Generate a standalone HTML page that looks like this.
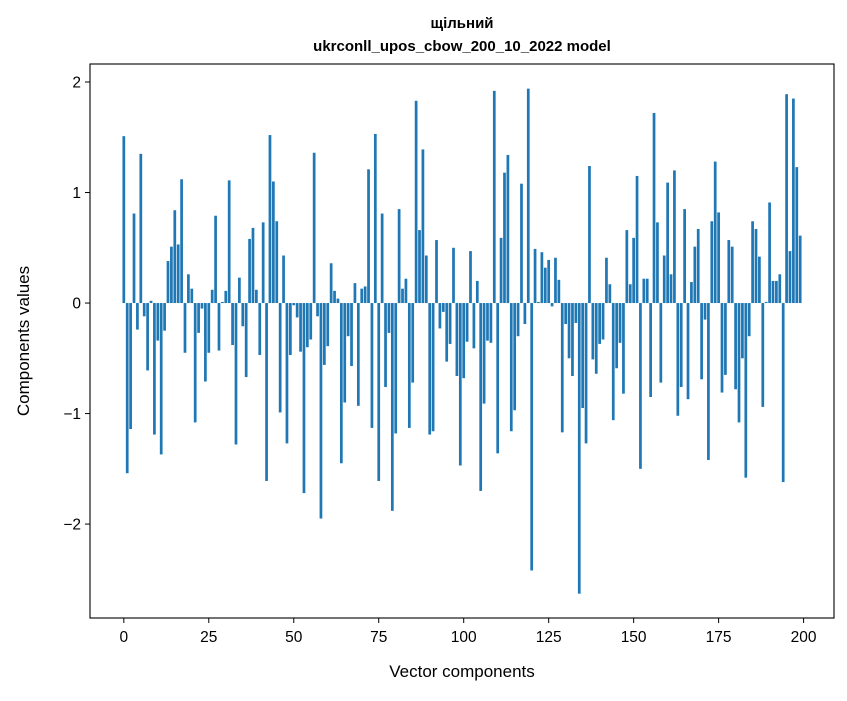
<!DOCTYPE html>
<html><head><meta charset="utf-8"><style>
html,body{margin:0;padding:0;background:#fff;}
svg text{font-family:"Liberation Sans","DejaVu Sans",sans-serif;fill:#000;}
</style></head><body>
<svg width="847" height="696" viewBox="0 0 847 696" xmlns="http://www.w3.org/2000/svg">
<rect x="0" y="0" width="847" height="696" fill="#fff"/>
<g id="bars"></g>
<g id="xticks"></g>
<g id="yticks"></g>
<rect x="90" y="64" width="744" height="554" fill="none" stroke="#000" stroke-width="1.1"/>
<text x="462" y="28" text-anchor="middle" font-size="15" font-weight="bold">щільний</text>
<text x="462" y="51" text-anchor="middle" font-size="15" font-weight="bold">ukrconll_upos_cbow_200_10_2022 model</text>
<text x="462" y="677" text-anchor="middle" font-size="17">Vector components</text>
<text x="0" y="0" transform="translate(29,341) rotate(-90)" text-anchor="middle" font-size="17">Components values</text>
</svg>
<script>
const values = [1.51,-1.54,-1.14,0.81,-0.24,1.35,-0.12,-0.61,0.02,-1.19,
-0.34,-1.37,-0.25,0.38,0.51,0.84,0.53,1.12,-0.45,0.26,
0.13,-1.08,-0.27,-0.05,-0.71,-0.45,0.12,0.79,-0.43,0.01,
0.11,1.11,-0.38,-1.28,0.23,-0.21,-0.67,0.58,0.68,0.12,
-0.47,0.73,-1.61,1.52,1.10,0.74,-0.99,0.43,-1.27,-0.47,
-0.02,-0.13,-0.44,-1.72,-0.40,-0.33,1.36,-0.12,-1.95,-0.56,
-0.39,0.36,0.11,0.04,-1.45,-0.90,-0.30,-0.57,0.18,-0.93,
0.13,0.15,1.21,-1.13,1.53,-1.61,0.81,-0.76,-0.27,-1.88,
-1.18,0.85,0.13,0.22,-1.13,-0.72,1.83,0.66,1.39,0.43,
-1.19,-1.16,0.57,-0.23,-0.08,-0.53,-0.37,0.50,-0.66,-1.47,
-0.68,-0.35,0.47,-0.41,0.20,-1.70,-0.91,-0.34,-0.36,1.92,
-1.36,0.59,1.18,1.34,-1.16,-0.97,-0.30,1.08,-0.19,1.94,
-2.42,0.49,0.01,0.46,0.32,0.39,-0.03,0.41,0.21,-1.17,
-0.19,-0.50,-0.66,-0.18,-2.63,-0.95,-1.27,1.24,-0.51,-0.64,
-0.37,-0.33,0.41,0.17,-1.06,-0.59,-0.36,-0.82,0.66,0.17,
0.59,1.15,-1.50,0.22,0.22,-0.85,1.72,0.73,-0.72,0.43,
1.09,0.26,1.20,-1.02,-0.76,0.85,-0.87,0.19,0.51,0.67,
-0.69,-0.15,-1.42,0.74,1.28,0.82,-0.81,-0.65,0.57,0.51,
-0.78,-1.08,-0.50,-1.58,-0.30,0.74,0.67,0.42,-0.94,0.01,
0.91,0.20,0.20,0.26,-1.62,1.89,0.47,1.85,1.23,0.61];
const xTickValues = [0,25,50,75,100,125,150,175,200];
const yTickValues = [-2,-1,0,1,2];
const NS = "http://www.w3.org/2000/svg";
const X0 = 90, X1 = 834, Y0 = 64, Y1 = 618;
const xMin = -9.95, xMax = 208.95, yMin = -2.85, yMax = 2.163;
function xs(v){ return X0 + (v - xMin) / (xMax - xMin) * (X1 - X0); }
function ys(v){ return Y1 - (v - yMin) / (yMax - yMin) * (Y1 - Y0); }
const bars = document.getElementById('bars');
values.forEach((v, i) => {
  const r = document.createElementNS(NS, 'rect');
  const xa = xs(i - 0.4), xb = xs(i + 0.4);
  const ya = ys(Math.max(v, 0)), yb = ys(Math.min(v, 0));
  r.setAttribute('x', xa);
  r.setAttribute('width', xb - xa);
  r.setAttribute('y', ya);
  r.setAttribute('height', Math.max(yb - ya, 0.3));
  r.setAttribute('fill', '#1f77b4');
  
  
  bars.appendChild(r);
});
const xt = document.getElementById('xticks');
xTickValues.forEach(t => {
  const x = xs(t);
  const l = document.createElementNS(NS, 'line');
  l.setAttribute('x1', x); l.setAttribute('x2', x);
  l.setAttribute('y1', Y1); l.setAttribute('y2', Y1 + 5);
  l.setAttribute('stroke', '#000');
  
  
  xt.appendChild(l);
  const tx = document.createElementNS(NS, 'text');
  tx.setAttribute('x', x); tx.setAttribute('y', Y1 + 24);
  tx.setAttribute('text-anchor', 'middle');
  tx.setAttribute('font-size', '15.5');
  tx.textContent = String(t);
  
  
  xt.appendChild(tx);
});
const yt = document.getElementById('yticks');
yTickValues.forEach(t => {
  const y = ys(t);
  const l = document.createElementNS(NS, 'line');
  l.setAttribute('x1', X0 - 5); l.setAttribute('x2', X0);
  l.setAttribute('y1', y); l.setAttribute('y2', y);
  l.setAttribute('stroke', '#000');
  
  
  yt.appendChild(l);
  const tx = document.createElementNS(NS, 'text');
  tx.setAttribute('x', X0 - 9); tx.setAttribute('y', y + 5.5);
  tx.setAttribute('text-anchor', 'end');
  tx.setAttribute('font-size', '15.5');
  tx.textContent = t < 0 ? '\u2212' + Math.abs(t) : String(t);
  
  
  yt.appendChild(tx);
});
</script>
</body></html>
